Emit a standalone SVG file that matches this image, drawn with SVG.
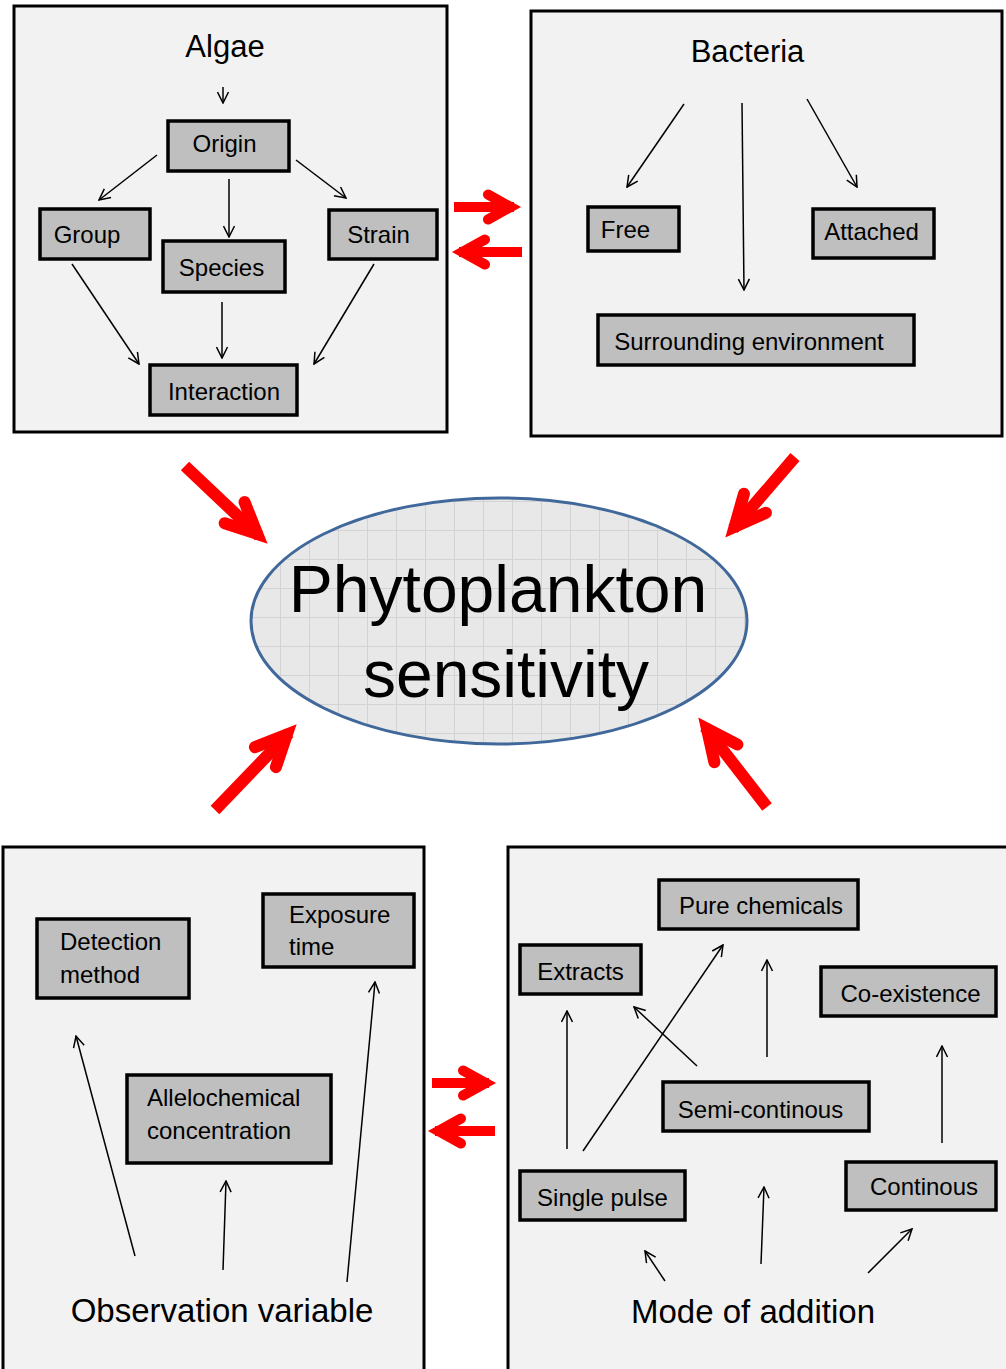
<svg xmlns="http://www.w3.org/2000/svg" xmlns:xlink="http://www.w3.org/1999/xlink" width="1006" height="1369" viewBox="0 0 1006 1369">
<style>
.panel{fill:#f2f2f2;stroke:#000;stroke-width:3}
.box{fill:#bfbfbf;stroke:#000;stroke-width:3.5}
text{font-family:"Liberation Sans",Arial,sans-serif;fill:#000}
.bt{font-size:24px}
.title{font-size:31px}
.big{font-size:33px}
.mid{text-anchor:middle}
.conn{stroke:#000;stroke-width:1.5;fill:none;marker-end:url(#ah)}
.rshaft{stroke:#f00;fill:none;stroke-width:12}
.rshaft-s{stroke:#f00;fill:none;stroke-width:10}
</style>
<defs>
<marker id="ah" markerUnits="userSpaceOnUse" markerWidth="13" markerHeight="13" viewBox="0 0 13 13" refX="12" refY="6.5" orient="auto">
<path d="M1,1 L12,6.5 L1,12" fill="none" stroke="#000" stroke-width="1.5"/>
</marker>
<g id="bigHead"><polyline points="-45.8,-14.5 -14.7,0 -45.8,14.5" fill="none" stroke="#f00" stroke-width="12" stroke-linecap="round" stroke-linejoin="miter" stroke-miterlimit="10"/></g>
<g id="smallHead"><polyline points="-33,-12.5 -10.3,0 -33,12.5" fill="none" stroke="#f00" stroke-width="10" stroke-linecap="round" stroke-linejoin="miter" stroke-miterlimit="10"/></g>
<pattern id="grid" patternUnits="userSpaceOnUse" x="570" y="617" width="29" height="29">
<rect width="29" height="29" fill="#e8e8e8"/>
<path d="M0,0.5 H29 M0.5,0 V29" stroke="#d3d3d3" stroke-width="1" fill="none"/>
</pattern>
</defs>
<rect width="1006" height="1369" fill="#fff"/>

<!-- Panels -->
<g id="algae-panel">
<rect class="panel" x="14" y="6" width="433" height="426"/>
<text class="title mid" x="225" y="57">Algae</text>
</g>
<g id="bacteria-panel">
<rect class="panel" x="531" y="11" width="471" height="425"/>
<text class="title mid" x="747.5" y="62">Bacteria</text>
</g>
<g id="observation-panel">
<rect class="panel" x="3" y="847" width="421" height="540"/>
<text class="big mid" x="222" y="1322">Observation variable</text>
</g>
<g id="mode-panel">
<rect class="panel" x="508" y="847" width="520" height="540"/>
<text class="big mid" x="753" y="1323">Mode of addition</text>
</g>

<!-- Algae nodes -->
<g id="origin"><rect class="box" x="168" y="121" width="121" height="50"/><text class="bt mid" x="224.5" y="152">Origin</text></g>
<g id="group"><rect class="box" x="40" y="209" width="110" height="50"/><text class="bt mid" x="87" y="243">Group</text></g>
<g id="species"><rect class="box" x="163" y="241" width="122" height="51"/><text class="bt mid" x="221.5" y="276">Species</text></g>
<g id="strain"><rect class="box" x="329" y="210" width="108" height="49"/><text class="bt mid" x="378.5" y="243">Strain</text></g>
<g id="interaction"><rect class="box" x="150" y="365" width="147" height="50"/><text class="bt mid" x="224" y="400">Interaction</text></g>

<!-- Bacteria nodes -->
<g id="free"><rect class="box" x="588" y="207" width="91" height="44"/><text class="bt mid" x="625.5" y="238">Free</text></g>
<g id="attached"><rect class="box" x="813" y="209" width="121" height="49"/><text class="bt mid" x="871.5" y="240">Attached</text></g>
<g id="surrounding"><rect class="box" x="598" y="315" width="316" height="50"/><text class="bt mid" x="749" y="350">Surrounding environment</text></g>

<!-- Observation nodes -->
<g id="detection"><rect class="box" x="37" y="919" width="152" height="79"/><text class="bt" x="60" y="950">Detection</text><text class="bt" x="60" y="983">method</text></g>
<g id="exposure"><rect class="box" x="263" y="894" width="151" height="73"/><text class="bt" x="289" y="923">Exposure</text><text class="bt" x="289" y="955">time</text></g>
<g id="allelochemical"><rect class="box" x="127" y="1075" width="204" height="88"/><text class="bt" x="147" y="1106">Allelochemical</text><text class="bt" x="147" y="1139">concentration</text></g>

<!-- Mode nodes -->
<g id="pure"><rect class="box" x="659" y="880" width="199" height="49"/><text class="bt mid" x="761" y="914">Pure chemicals</text></g>
<g id="extracts"><rect class="box" x="520" y="945" width="121" height="49"/><text class="bt mid" x="580.5" y="980">Extracts</text></g>
<g id="coexistence"><rect class="box" x="821" y="967" width="175" height="49"/><text class="bt mid" x="910.5" y="1002">Co-existence</text></g>
<g id="semi"><rect class="box" x="663" y="1082" width="206" height="49"/><text class="bt mid" x="760.5" y="1118">Semi-continous</text></g>
<g id="single"><rect class="box" x="520" y="1171" width="165" height="49"/><text class="bt mid" x="602.5" y="1206">Single pulse</text></g>
<g id="continous"><rect class="box" x="846" y="1162" width="150" height="48"/><text class="bt mid" x="924" y="1195">Continous</text></g>

<!-- Central node -->
<g id="phytoplankton">
<ellipse cx="499" cy="621" rx="248" ry="123" fill="url(#grid)" stroke="#41689a" stroke-width="3"/>
<text x="498" y="612" font-size="66" text-anchor="middle">Phytoplankton</text>
<text x="506" y="697" font-size="66" text-anchor="middle">sensitivity</text>
</g>

<!-- Connectors -->
<g id="connectors">
<line class="conn" x1="223" y1="87" x2="223" y2="103"/>
<line class="conn" x1="157" y1="155" x2="99" y2="200"/>
<line class="conn" x1="229" y1="179" x2="229" y2="237"/>
<line class="conn" x1="296" y1="160" x2="346" y2="198"/>
<line class="conn" x1="72" y1="264" x2="139" y2="364"/>
<line class="conn" x1="222" y1="302" x2="222" y2="358"/>
<line class="conn" x1="374" y1="264" x2="314" y2="364"/>

<line class="conn" x1="684" y1="104" x2="627" y2="187"/>
<line class="conn" x1="742" y1="103" x2="744" y2="290"/>
<line class="conn" x1="807" y1="99" x2="857" y2="187"/>

<line class="conn" x1="135" y1="1256" x2="76" y2="1036"/>
<line class="conn" x1="223" y1="1270" x2="226" y2="1181"/>
<line class="conn" x1="347" y1="1282" x2="375" y2="982"/>

<line class="conn" x1="567" y1="1149" x2="567" y2="1011"/>
<line class="conn" x1="583" y1="1151" x2="723" y2="945"/>
<line class="conn" x1="697" y1="1066" x2="634" y2="1007"/>
<line class="conn" x1="767" y1="1057" x2="767" y2="960"/>
<line class="conn" x1="942" y1="1143" x2="942" y2="1046"/>
<line class="conn" x1="665" y1="1281" x2="645" y2="1251"/>
<line class="conn" x1="761" y1="1264" x2="764" y2="1187"/>
<line class="conn" x1="868" y1="1273" x2="912" y2="1229"/>

<!-- Red arrows -->
<line class="rshaft-s" x1="454" y1="207" x2="514" y2="207"/>
<use xlink:href="#smallHead" href="#smallHead" transform="translate(521,207)"/>
<line class="rshaft-s" x1="522" y1="252" x2="459" y2="252"/>
<use xlink:href="#smallHead" href="#smallHead" transform="translate(452,252) rotate(180)"/>
<line class="rshaft-s" x1="432" y1="1083" x2="489" y2="1083"/>
<use xlink:href="#smallHead" href="#smallHead" transform="translate(496,1083)"/>
<line class="rshaft-s" x1="495" y1="1131" x2="435" y2="1131"/>
<use xlink:href="#smallHead" href="#smallHead" transform="translate(428,1131) rotate(180)"/>

<line class="rshaft" x1="185" y1="466" x2="259" y2="536"/>
<use xlink:href="#bigHead" href="#bigHead" transform="translate(268,544) rotate(43.2)"/>
<line class="rshaft" x1="795" y1="457" x2="733" y2="529"/>
<use xlink:href="#bigHead" href="#bigHead" transform="translate(725,538) rotate(130.8)"/>
<line class="rshaft" x1="215" y1="810" x2="289" y2="733"/>
<use xlink:href="#bigHead" href="#bigHead" transform="translate(297,724) rotate(-46.4)"/>
<line class="rshaft" x1="767" y1="807" x2="705" y2="727"/>
<use xlink:href="#bigHead" href="#bigHead" transform="translate(698,717) rotate(-127.5)"/>
</g>
</svg>
